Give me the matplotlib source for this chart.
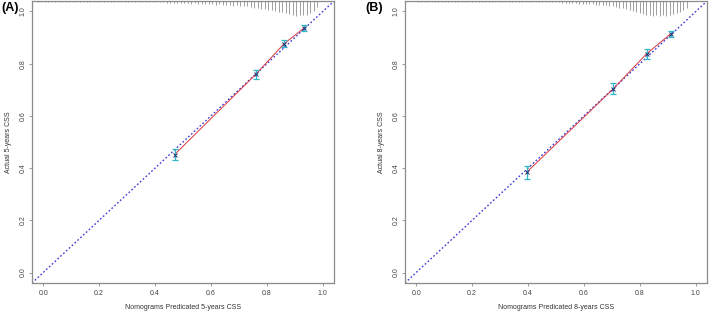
import numpy as np
import matplotlib
matplotlib.use("Agg")
import matplotlib.pyplot as plt

plt.rcParams['font.family'] = ['Liberation Sans', 'DejaVu Sans']

# ---- calibration points (predicted, observed, CI low, CI high) ----
pred_a = [0.47, 0.76, 0.861, 0.931]
obs_a = [0.452, 0.759, 0.876, 0.935]
lo_a = [0.433, 0.743, 0.865, 0.925]
hi_a = [0.475, 0.775, 0.890, 0.947]

pred_b = [0.395, 0.705, 0.824, 0.911]
obs_b = [0.384, 0.704, 0.838, 0.915]
lo_b = [0.360, 0.682, 0.819, 0.902]
hi_b = [0.410, 0.727, 0.857, 0.927]

# ---- spike histogram of predictions at the top (relative frequency) ----
spike_x_a = np.round(np.arange(-0.02, 0.985, 0.0125), 4)
spike_h_a = ([1] * 26
             + [1, 1, 1, 1.5, 1, 1.5, 1, 1.5, 1.5, 1.5, 1.5, 2]
             + [2, 2, 2, 2.5, 2, 2.5, 3, 2.5, 3, 3, 3.5, 3]
             + [3.5, 4, 3.5, 4, 4.5, 4, 5, 4.5, 5, 5.5, 5, 6]
             + [7, 7.5, 8, 8.5, 9, 9.5, 10, 11]
             + [11, 12, 13, 14, 15, 14, 14, 14]
             + [12, 10, 6])

spike_x_b = np.round(np.arange(0.007, 0.97, 0.012), 4)
spike_h_b = ([1] * 34 + [1.5] * 8
             + [1.5, 2, 2, 2, 2.5, 2.5, 3, 3, 3, 3.5, 3.5, 4, 4, 4.5, 4.5, 5, 5]
             + [6, 7, 7, 8, 9, 10, 11]
             + [12, 13, 14, 14, 15, 14, 15, 14, 15, 14, 13]
             + [12, 11, 9, 7])

panels = [
    ("(A)", "Actual 5-years CSS", "Nomograms Predicated 5-years CSS",
     pred_a, obs_a, lo_a, hi_a, spike_x_a, spike_h_a),
    ("(B)", "Actual 8-years CSS", "Nomograms Predicated 8-years CSS",
     pred_b, obs_b, lo_b, hi_b, spike_x_b, spike_h_b),
]

fig = plt.figure(figsize=(7.09, 3.13), dpi=100)
axes_pos = [[0.0451, 0.0958, 0.426, 0.901], [0.5712, 0.0958, 0.426, 0.901]]
tag_x = [0.002, 0.516]

gray = "#8a8a8a"
for pos, tx, (tag, ylab, xlab, px, oy, lo, hi, sx, sh) in zip(axes_pos, tag_x, panels):
    ax = fig.add_axes(pos)
    ax.set_xlim(-0.04, 1.04)
    ax.set_ylim(-0.04, 1.04)

    # ideal line
    ax.plot([-0.04, 1.04], [-0.04, 1.04], color="#3b3bd6", lw=1.0,
            linestyle=(0, (1.2, 1.6)), zorder=2)

    # spike histogram hanging from top
    top = 1.04
    scale = 0.0038
    ax.vlines(sx, top - np.array(sh) * scale, top, color="#8f8f8f", lw=0.6, zorder=1)

    # apparent calibration
    ax.plot(px, oy, color="#d9363e", lw=0.7, zorder=3)
    ax.errorbar(px, oy, yerr=[np.array(oy) - np.array(lo), np.array(hi) - np.array(oy)],
                fmt="none", ecolor="#2fb6c8", elinewidth=0.9, capsize=2.2,
                capthick=0.9, zorder=4)
    ax.plot(px, oy, "x", color="#1f2f6e", ms=2.3, mew=0.7, zorder=5)

    ticks = [0.0, 0.2, 0.4, 0.6, 0.8, 1.0]
    ax.set_xticks(ticks)
    ax.set_yticks(ticks)
    ax.set_xticklabels([f"{t:.1f}" for t in ticks], fontsize=5, color="#444444")
    ax.set_yticklabels([f"{t:.1f}" for t in ticks], fontsize=5, color="#444444",
                       rotation=90, va="center")
    ax.tick_params(length=2.5, width=0.6, color=gray)
    ax.tick_params(axis="x", pad=2.5)
    ax.tick_params(axis="y", pad=1.5)
    for s in ax.spines.values():
        s.set_color(gray)
        s.set_linewidth(0.9)
    ax.set_xlabel(xlab, fontsize=5, color="#333333", labelpad=5)
    ax.set_ylabel(ylab, fontsize=5, color="#333333", labelpad=5)

    fig.text(tx, 0.973, tag, fontsize=9, fontweight="bold", ha="left", va="center")

fig.savefig("out.png", dpi=100)
